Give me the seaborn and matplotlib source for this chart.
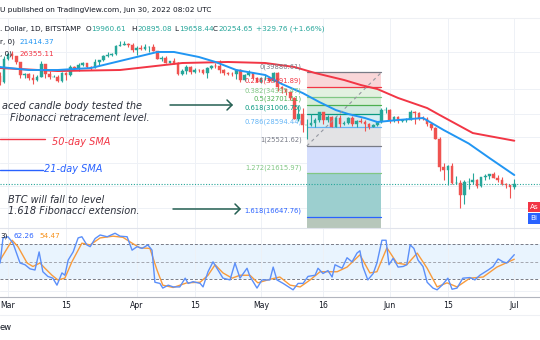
import numpy as np
import pandas as pd
import matplotlib
matplotlib.use("Agg")
import matplotlib.pyplot as plt
import matplotlib.dates as mdates
from matplotlib.patches import Rectangle
from matplotlib.lines import Line2D
from matplotlib.ticker import NullLocator, NullFormatter
import seaborn as sns

sns.set_style("white")
plt.rcParams['font.family'] = ['DejaVu Sans']

# ---------------- data ----------------
dates = pd.date_range("2022-02-27", "2022-07-01", freq="D")
opens = [39100, 37700,
         43190, 44420, 43900, 42450, 39150, 39400, 38420, 37990, 38740, 41940,
         39440, 38730, 38810, 37790, 39670, 39280, 41120, 40920, 41760, 42220,
         41260, 41000, 42370, 42880, 43970, 44330, 44520, 46820, 47130, 47440, 47070,
         45530, 46290, 45830, 46420, 46620, 45500, 43170, 43440, 42290, 42780,
         42170, 39520, 40080, 41150, 39940, 40550, 40400, 39710, 40820, 41500,
         41370, 40510, 39720, 39470, 39450, 40430, 38110, 39240, 39740, 38590,
         37640, 38470, 38520, 37730, 39690, 36550, 36030, 35480, 34060, 30100,
         31020, 28940, 29050, 29290, 29860, 31290, 29850, 30440, 28700, 30300,
         29190, 29420, 30280, 29090, 29650, 29530, 29190, 28630, 29030, 29460, 31740,
         31800, 29800, 30460, 29700, 29860, 29910, 31360, 31130, 30200, 30100,
         29080, 28400, 26580, 22480, 22140, 22580, 20380, 20460, 19010, 20570,
         20570, 20720, 19980, 21110, 21230, 21500, 21040, 20730, 20280, 20100,
         19960.61]
highs = [39850, 44000,
         44950, 45400, 44100, 42500, 39600, 39650, 39550, 39350, 42580, 41940,
         40250, 39330, 39300, 39900, 39870, 41700, 41440, 42300, 42390, 42300,
         41530, 43350, 42890, 44200, 45060, 44770, 46960, 48180, 48100, 47700, 47600,
         46700, 47180, 47430, 46880, 47200, 45500, 43900, 43950, 42800, 43410,
         42400, 40690, 41560, 41490, 40870, 40700, 40600, 41130, 41760, 42190,
         42980, 40800, 39990, 39940, 40620, 40800, 39450, 40380, 39920, 38800,
         38680, 39170, 38640, 39980, 39850, 36630, 36120, 35500, 34240, 32650,
         32190, 30040, 31000, 30300, 31400, 31300, 30740, 30660, 30520, 30750,
         29620, 30420, 30620, 29800, 30170, 29840, 29360, 29200, 29540, 32190, 32370,
         31950, 30660, 30670, 29950, 30160, 31750, 31550, 31320, 30650, 30350,
         29430, 28560, 26900, 23000, 22800, 22990, 21350, 20770, 20800, 21000,
         21720, 20870, 21200, 21500, 21580, 21860, 21480, 21180, 20420, 20140,
         20895.08]
lows = [37000, 37450,
        42850, 43350, 41850, 38600, 38600, 38100, 37170, 37870, 38670, 38560,
        38230, 38660, 37600, 37580, 38130, 38900, 40550, 40170, 41520, 40920,
        40500, 40890, 41770, 42630, 43620, 44060, 44400, 46660, 46950, 46560, 45220,
        44220, 45600, 45550, 45130, 45370, 43120, 42740, 42110, 42130, 42000,
        39210, 39260, 39570, 39570, 39780, 40000, 39550, 38560, 40580, 40880,
        39760, 39190, 39320, 38960, 38200, 37700, 37880, 38880, 38180, 37590,
        37400, 38050, 37530, 37690, 35600, 35280, 34770, 33720, 30070, 29760,
        27780, 26560, 28740, 28680, 29500, 29090, 29450, 28650, 28680, 28710,
        28950, 29230, 28890, 28610, 29320, 28020, 28240, 28560, 28830, 29320, 31230,
        29310, 29590, 29320, 29460, 29510, 29890, 29230, 29860, 29960, 28870,
        28100, 26560, 21950, 20800, 20100, 20250, 20250, 17590, 17950, 19640,
        20340, 19780, 19930, 20730, 20920, 21000, 20520, 20200, 19850, 18630,
        19658.44]
closes = [37700, 43190,
          44420, 43900, 42450, 39150, 39400, 38420, 37990, 38740, 41940, 39440,
          38730, 38810, 37790, 39670, 39280, 41120, 40920, 41760, 42220, 41260,
          41000, 42370, 42880, 43970, 44330, 44520, 46820, 47130, 47440, 47070, 45530,
          46290, 45830, 46420, 46620, 45500, 43170, 43440, 42290, 42780, 42170,
          39520, 40080, 41150, 39940, 40550, 40400, 39710, 40820, 41500, 41370,
          40510, 39720, 39470, 39450, 40430, 38110, 39240, 39740, 38590, 37640,
          38470, 38520, 37730, 39690, 36550, 36030, 35480, 34060, 30100, 31020,
          28940, 29050, 29290, 29860, 31290, 29850, 30440, 28700, 30300, 29190,
          29420, 30280, 29090, 29650, 29530, 29190, 28630, 29030, 29460, 31740, 31800,
          29800, 30460, 29700, 29860, 29910, 31360, 31130, 30200, 30100, 29080,
          28400, 26580, 22480, 22140, 22580, 20380, 20460, 19010, 20570, 20570,
          20720, 19980, 21110, 21230, 21500, 21040, 20730, 20280, 20100, 19960.61,
          20254.65]

sma21_dates = ["2022-02-27", "2022-03-06", "2022-03-13", "2022-03-21", "2022-03-26",
               "2022-03-31", "2022-04-06", "2022-04-10", "2022-04-16", "2022-04-20",
               "2022-04-25", "2022-05-02", "2022-05-06", "2022-05-11", "2022-05-15",
               "2022-05-19", "2022-05-22", "2022-05-26", "2022-05-29", "2022-06-03",
               "2022-06-09", "2022-06-14", "2022-06-20", "2022-06-25", "2022-07-01"]
sma21_vals = [41180, 40440, 40440, 40930, 42190, 43490, 45100, 45100, 43750, 42450,
              40440, 39230, 37150, 35180, 33320, 31730, 30980, 30240, 29520, 29880,
              30240, 28110, 25920, 23740, 21414.37]
sma50_dates = ["2022-02-27", "2022-03-13", "2022-03-28", "2022-04-12", "2022-04-23",
               "2022-05-02", "2022-05-09", "2022-05-14", "2022-05-21", "2022-05-25",
               "2022-05-29", "2022-06-03", "2022-06-10", "2022-06-13", "2022-06-21",
               "2022-07-01"]
sma50_vals = [40930, 40190, 40440, 42190, 42450, 42190, 41180, 39710, 38060, 36930,
              36040, 34140, 32120, 30800, 27610, 26355.11]

# Stochastic RSI (days counted from 2022-03-01)
k_day = [-1.9, -1.2, 0, 1.2, 2.9, 4.1, 5.3, 6.5, 7.5, 8.4,
         9.6, 10.8, 11.8, 13, 13.7, 14.5, 15.7, 16.9, 17.8, 19,
         19.8, 21, 22.2, 23.9, 25.8, 27, 28.7, 29.9, 31.1, 32.3,
         33.7, 34.7, 35.4, 36.6, 37.3, 38.6, 39.8, 41.4, 42.7, 43.4,
         44.6, 46.3, 47, 48.2, 49.4, 50.6, 51.8, 53.5, 54.7, 55.9,
         57.6, 58.3, 60, 61.2, 63.1, 63.9, 64.8, 66.3, 68.7, 69.9,
         71.1, 72.3, 74, 74.7, 75.9, 77.1, 78.1, 78.8, 80.5, 81.7,
         82.9, 84.1, 84.8, 85.5, 86.7, 88, 88.9, 90.1, 91.1, 91.8,
         92.8, 94, 95.2, 96.1, 96.9, 97.8, 98.8, 100, 101, 102.4,
         103.4, 104.6, 106, 107, 108.2, 109.6, 111.3, 112.5, 113.7, 115.7,
         116.9, 118.1, 119.3, 120.2, 122]
k_val = [48, 91, 93, 82, 48, 45, 38, 36, 67, 33,
         25, 22, 10, 31, 27, 53, 67, 91, 93, 79,
         76, 90, 96, 93, 99, 94, 93, 70, 76, 73,
         79, 70, 15, 13, 5, 10, 7, 7, 22, 13,
         16, 13, 7, 33, 50, 36, 22, 19, 48, 22,
         39, 25, 5, 19, 19, 41, 19, 13, 2, 13,
         13, 25, 27, 39, 30, 35, 24, 45, 39, 57,
         50, 65, 69, 42, 19, 30, 48, 87, 87, 45,
         56, 41, 42, 45, 79, 73, 53, 42, 15, 5,
         2, 10, 22, 3, 5, 22, 23, 19, 27, 36,
         42, 55, 50, 48, 62.26]
d_day = [-1.9, 1, 2.4, 4.6, 6, 7.7, 8.9, 10.6, 12, 13.7,
         15.4, 17.8, 19.8, 22.2, 25.3, 27.7, 29.9, 31.8, 34.2, 35.9,
         37.3, 39.8, 43.1, 46.3, 48.2, 49.9, 51.8, 54, 55.9, 58.3,
         60.2, 63.1, 65.5, 68, 70.4, 72.8, 75.2, 79.3, 81.7, 84.8,
         87.2, 88.9, 91.3, 93.7, 96.1, 98.6, 101, 103.4, 105.8, 108.2,
         111.3, 114.5, 117.8, 122]
d_val = [53, 87, 76, 48, 42, 48, 39, 27, 19, 22,
         50, 82, 79, 91, 94, 92, 82, 74, 73, 36,
         10, 6, 14, 15, 27, 45, 31, 22, 27, 27,
         14, 20, 24, 10, 7, 19, 33, 33, 41, 62,
         31, 33, 74, 48, 45, 65, 39, 7, 14, 7,
         22, 24, 41, 54.47]

fib_levels = [0, 0.236, 0.382, 0.5, 0.618, 0.786, 1, 1.272, 1.618]
fib_prices = [39880.61, 36491.89, 34395.47, 32701.11, 31006.75, 28594.44,
              25521.62, 21615.97, 16647.76]
fib_start, fib_end = "2022-05-12", "2022-05-30"

tick_dates = ["2022-03-01", "2022-03-15", "2022-04-01", "2022-04-15", "2022-05-01",
              "2022-05-16", "2022-06-01", "2022-06-15", "2022-07-01"]
tick_labels = ["Mar", "15", "Apr", "15", "May", "16", "Jun", "15", "Jul"]
price_grid = [45000, 36000, 31000, 27000, 23000, 20000, 17500]
last_price = 20254.65

# ---------------- styles ----------------
W, H = 540, 340
GREEN, RED = '#26a69a', '#ef5350'
fib_line_colors = ['#787b86', '#f23645', '#81c784', '#4caf50', '#089981',
                   '#64b5f6', '#787b86', '#81c784', '#2962ff']
fib_fill_colors = ['#f9d6d8', '#e3f1e1', '#d8edd8', '#cfe9e0', '#d6eef3',
                   '#e3e3e5', '#d5defd', '#9ccfcf', '#b7c7bb']
GRID = '#eef1f6'


def fx(x):
    return x / W


def fy(y):
    return 1 - y / H


fig = plt.figure(figsize=(W / 100, H / 100), dpi=100)
fig.patch.set_facecolor('white')

ax = fig.add_axes([0, fy(228), 1, (228 - 18) / H])
ax2 = fig.add_axes([0, fy(297), 1, (297 - 228) / H])

t0 = mdates.date2num(pd.Timestamp("2022-03-01"))
ppd = 4.15
xmin, xmax = t0 - 8 / ppd, t0 + (W - 8) / ppd
xs = mdates.date2num(dates)
ticks = mdates.date2num(pd.to_datetime(tick_dates))

# ---- main pane ----
ax.set_yscale('log')
ax.set_ylim(15540, 55400)
ax.set_xlim(xmin, xmax)
ax.set_yticks(price_grid)
ax.yaxis.set_minor_locator(NullLocator())
ax.yaxis.set_major_formatter(NullFormatter())
ax.yaxis.set_minor_formatter(NullFormatter())
ax.set_xticks(ticks)
ax.set_xticklabels([])
ax.tick_params(length=0)
ax.grid(True, color=GRID, lw=0.7)
for k, s in ax.spines.items():
    s.set_visible(k == 'top')
ax.spines['top'].set_color('#eef0f4')
ax.spines['top'].set_linewidth(0.8)

# fibonacci drawing
fs = mdates.date2num(pd.Timestamp(fib_start))
fe = mdates.date2num(pd.Timestamp(fib_end))
ybot = ax.get_ylim()[0]
bounds = fib_prices + [ybot]
for i in range(len(fib_prices)):
    top, bot = bounds[i], bounds[i + 1]
    ax.fill_between([fs, fe], [bot, bot], [top, top], color=fib_fill_colors[i],
                    lw=0, zorder=1)
for lv, pr, col in zip(fib_levels, fib_prices, fib_line_colors):
    ax.plot([fs, fe], [pr, pr], color=col, lw=0.9, zorder=2)
    lab = f"{lv:g}({pr:.2f})"
    ax.annotate(lab, (fs, pr), xytext=(-5, 6), textcoords='offset pixels',
                ha='right', va='center', fontsize=4.9, color=col, zorder=6)
ax.plot([fs, fe], [fib_prices[6], fib_prices[0]], color='#9598a1', lw=0.8,
        ls=(0, (3, 3)), zorder=5)

# current price dotted
ax.axhline(last_price, color=GREEN, lw=0.8, ls=(0, (1, 1.5)), zorder=2)

# candles
o = np.array(opens); h = np.array(highs); l = np.array(lows); c = np.array(closes)
cols = np.where(c >= o, GREEN, RED)
ax.vlines(xs, l, h, colors=cols, lw=0.8, zorder=3)
ax.bar(xs, np.abs(c - o), bottom=np.minimum(o, c), width=0.64, color=cols,
       edgecolor=cols, linewidth=0.3, zorder=3)

# moving averages
sns.lineplot(x=mdates.date2num(pd.to_datetime(sma50_dates)), y=sma50_vals, ax=ax,
             color='#f23645', lw=1.4, zorder=4, sort=False, estimator=None)
sns.lineplot(x=mdates.date2num(pd.to_datetime(sma21_dates)), y=sma21_vals, ax=ax,
             color='#2196f3', lw=1.4, zorder=4, sort=False, estimator=None)
ax.set_xlabel(''); ax.set_ylabel('')

# ---- stoch RSI pane ----
ax2.set_xlim(xmin, xmax)
ax2.set_ylim(-10.3, 108)
ax2.axhspan(20, 80, color='#e9f4fe', lw=0, zorder=0)
for lvl, colr in [(80, '#787b86'), (50, '#a3a6af'), (20, '#787b86')]:
    ax2.axhline(lvl, color=colr, lw=0.7, ls=(0, (3, 2)), zorder=1)
ax2.axhline(0, color=GRID, lw=0.7, zorder=0)
for t in ticks:
    ax2.axvline(t, color=GRID, lw=0.7, zorder=0)
sns.lineplot(x=t0 + np.array(d_day), y=d_val, ax=ax2, color='#f89b3c', lw=1.0,
             sort=False, estimator=None, zorder=3)
sns.lineplot(x=t0 + np.array(k_day), y=k_val, ax=ax2, color='#5b8ff9', lw=1.0,
             sort=False, estimator=None, zorder=4)
ax2.set_xlabel(''); ax2.set_ylabel('')
ax2.set_yticks([])
ax2.set_xticks(ticks)
ax2.set_xticklabels(tick_labels)
ax2.tick_params(axis='x', length=0, pad=3.2, labelsize=5.6, labelcolor='#131722')
for k, s in ax2.spines.items():
    s.set_visible(k in ('bottom', 'top'))
ax2.spines['bottom'].set_color('#b2b5be')
ax2.spines['bottom'].set_linewidth(0.8)
ax2.spines['top'].set_color('#e0e3eb')
ax2.spines['top'].set_linewidth(0.8)

# ---- texts ----
def ftext(x, y, s, **kw):
    kw.setdefault('va', 'center')
    kw.setdefault('ha', 'left')
    fig.text(fx(x), fy(y), s, **kw)

DARK = '#131722'
TEAL = '#26a69a'
HF = 5.2
ftext(0, 10, "U published on TradingView.com, Jun 30, 2022 08:02 UTC", fontsize=5.35, color=DARK)
ftext(0, 29, ". Dollar, 1D, BITSTAMP", fontsize=HF, color=DARK)
for lx, lab, nx, num in [(86, "O", 91, "19960.61"), (131, "H", 137, "20895.08"),
                         (174, "L", 179, "19658.44"), (213, "C", 218, "20254.65")]:
    ftext(lx, 29, lab, fontsize=HF, color=DARK)
    ftext(nx, 29, num, fontsize=HF, color=TEAL)
ftext(256, 29, "+329.76 (+1.66%)", fontsize=HF, color=TEAL)
ftext(0, 42, "r, 0)", fontsize=HF, color=DARK)
ftext(19, 42, "21414.37", fontsize=HF, color='#2196f3')
ftext(0, 54, ", 0)", fontsize=HF, color=DARK)
ftext(19, 54, "26355.11", fontsize=HF, color='#f23645')
ftext(0, 236, "3)", fontsize=HF, color=DARK)
ftext(13, 236, "62.26", fontsize=HF, color='#2962ff')
ftext(39, 236, "54.47", fontsize=HF, color='#f7931e')

NOTE = '#2a2e39'
ftext(2, 106, "aced candle body tested the", fontsize=7, style='italic', color=NOTE)
ftext(10, 118, "Fibonacci retracement level.", fontsize=7, style='italic', color=NOTE)
ftext(52, 142, "50-day SMA", fontsize=7, style='italic', color='#f23645')
ftext(44, 169, "21-day SMA", fontsize=7, style='italic', color='#2962ff')
ftext(8, 200, "BTC will fall to level", fontsize=7, style='italic', color=NOTE)
ftext(8, 211, "1.618 Fibonacci extension.", fontsize=7, style='italic', color=NOTE)

fig.add_artist(Line2D([fx(0), fx(45)], [fy(139), fy(139)], color='#f23645', lw=1.0))
fig.add_artist(Line2D([fx(0), fx(43)], [fy(170), fy(170)], color='#2962ff', lw=1.0))

ARROW = '#245f52'
for x0, x1, yy in [(170, 232, 105), (173, 240, 209)]:
    fig.add_artist(Line2D([fx(x0), fx(x1)], [fy(yy), fy(yy)], color=ARROW, lw=1.1))
    fig.add_artist(Line2D([fx(x1 - 5), fx(x1), fx(x1 - 5)],
                          [fy(yy - 5), fy(yy), fy(yy + 5)], color=ARROW, lw=1.1))

# Ask / Bid tags
for y0, y1, col, lab in [(202, 212, '#f23645', "As"), (213, 224, '#2962ff', "Bi")]:
    fig.add_artist(Rectangle((fx(528), fy(y1)), fx(12), (y1 - y0) / H,
                             transform=fig.transFigure, color=col, lw=0))
    ftext(530, (y0 + y1) / 2, lab, fontsize=5.2, color='white')

# footer
fig.add_artist(Line2D([0, 1], [fy(315), fy(315)], color='#eef0f4', lw=0.8))
ftext(0, 328, "ew", fontsize=6, color=DARK)

fig.savefig("out.png", dpi=100, facecolor='white')
